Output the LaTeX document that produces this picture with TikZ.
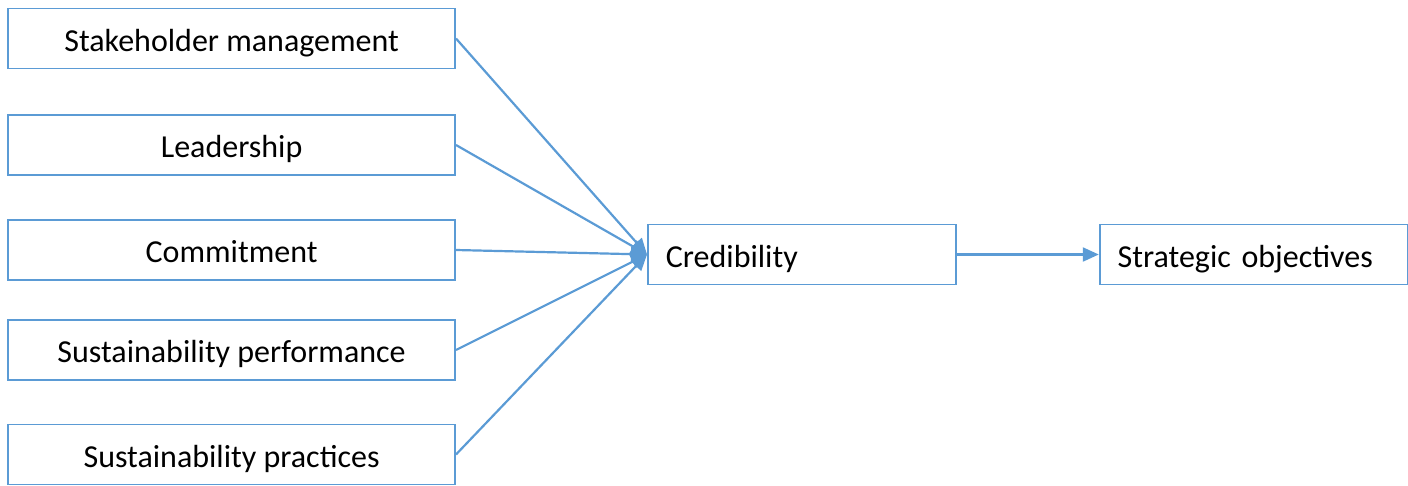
\documentclass[tikz,border=0pt]{standalone}
\usepackage{fontspec}
\setmainfont{Carlito}
\usepackage{tikz}
\usetikzlibrary{arrows.meta, positioning}
\definecolor{linkblue}{HTML}{5B9BD5}

\begin{document}
\begin{tikzpicture}[x=1pt, y=-1pt, >={Triangle[length=16pt, width=14pt]},
    factor/.style={draw=linkblue, line width=1.8pt, rectangle, minimum width=447pt, minimum height=60pt, text height=32pt, text depth=7pt, align=center, font=\fontsize{32}{38}\selectfont},
    result/.style={draw=linkblue, line width=1.8pt, rectangle, minimum width=308pt, minimum height=60pt, text height=32pt, text depth=7pt, inner xsep=18pt, text width=272pt, align=left, font=\fontsize{32}{38}\selectfont},
    link/.style={->, draw=linkblue, fill=linkblue, line width=2.2pt}]
      \useasboundingbox (0,0) rectangle (1408,485);

      % Factors on the left
      \node [factor, anchor=east] (stake) at (456,38.5) {Stakeholder management};
      \node [factor, anchor=east] (lead) at (456,145) {Leadership};
      \node [factor, anchor=east] (commit) at (456,250) {Commitment};
      \node [factor, anchor=east] (perf) at (456,350) {Sustainability performance};
      \node [factor, anchor=east] (pract) at (456,454.5) {Sustainability practices};

      % Credibility and outcome
      \node [result, anchor=west] (cred) at (647,254.5) {Credibility};
      \node [result, right=142pt of cred] (strat) {Strategic objectives};

      % Arrows
      \foreach \src in {stake, lead, commit, perf, pract}
        \draw [link] (\src.east) -- (cred.west);
      \draw [link] (cred) -- (strat);
    \end{tikzpicture}
\end{document}
